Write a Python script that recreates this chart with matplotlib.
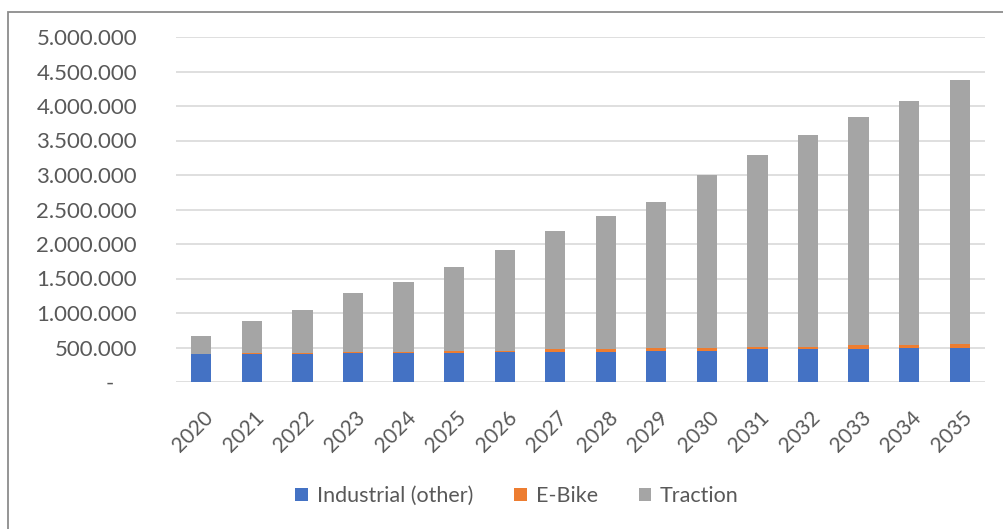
import numpy as np
import matplotlib
matplotlib.use("Agg")
import matplotlib.pyplot as plt
from matplotlib.ticker import FuncFormatter, MultipleLocator
from matplotlib.transforms import ScaledTranslation
from matplotlib.patches import Rectangle

years = [str(y) for y in range(2020, 2036)]
industrial = [402000, 402000, 402000, 417000, 417000, 421000, 441000, 441000,
              441000, 455000, 455000, 475000, 475000, 475000, 494000, 494000]
ebike = [6000, 19000, 19000, 19000, 19000, 34000, 15000, 34000,
         34000, 34000, 34000, 39000, 39000, 63000, 39000, 63000]
totals = [670000, 884000, 1044000, 1295000, 1450000, 1663000, 1920000, 2190000,
          2410000, 2603000, 2996000, 3286000, 3577000, 3834000, 4067000, 4381000]
traction = [t - i - e for t, i, e in zip(totals, industrial, ebike)]

series_names = ["Industrial (other)", "E-Bike", "Traction"]
colors = ["#4472C4", "#ED7D31", "#A5A5A5"]
text_grey = "#595959"

plt.rcParams["font.family"] = ["Lato", "DejaVu Sans"]

fig = plt.figure(figsize=(10.04, 5.29), dpi=100)
ax = fig.add_axes([176 / 1004, 1 - 382 / 529, (985 - 176) / 1004, (382 - 37) / 529])

x = np.arange(len(years))
bottom = np.zeros(len(years))
for name, vals, col in zip(series_names, [industrial, ebike, traction], colors):
    ax.bar(x, vals, width=0.4, bottom=bottom, color=col, label=name, zorder=3)
    bottom += np.array(vals)

ax.set_xlim(-0.5, len(years) - 0.5)
ax.set_ylim(0, 5000000)
ax.yaxis.set_major_locator(MultipleLocator(500000))


def fmt(v, pos):
    if v == 0:
        return "-    "
    return f"{v:,.0f}".replace(",", ".")


ax.yaxis.set_major_formatter(FuncFormatter(fmt))
ax.grid(axis="y", color="#d9d9d9", linewidth=1.2, zorder=0)
for s in ax.spines.values():
    s.set_visible(False)
ax.tick_params(axis="both", length=0, colors=text_grey, labelsize=16)
ax.tick_params(axis="y", pad=28)

ax.set_xticks(x)
ax.set_xticklabels(years, rotation=45, ha="right", va="top", rotation_mode="anchor",
                   fontsize=15)
offset = ScaledTranslation(2 / 100, -21 / 100, fig.dpi_scale_trans)
for lbl in ax.get_xticklabels():
    lbl.set_transform(lbl.get_transform() + offset)

leg = fig.legend(loc="center", bbox_to_anchor=(517 / 1004, 1 - 496 / 529), ncol=3,
                 frameon=False, fontsize=15.5, handlelength=0.6, handleheight=0.6,
                 handletextpad=0.4, columnspacing=1.9)
for t in leg.get_texts():
    t.set_color(text_grey)

# chart frame (only left and top edges visible in the crop)
fig.patches.append(Rectangle((8.5 / 1004, -0.1), 1.2, 1 - 12 / 529 + 0.1,
                             transform=fig.transFigure, fill=False,
                             edgecolor="#8c8c8c", linewidth=1.3))

fig.savefig("out.png", dpi=100)
